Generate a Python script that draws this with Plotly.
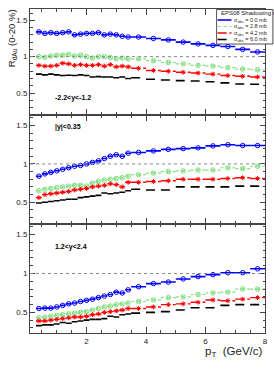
import plotly.graph_objects as go

# ---------------- data ----------------
pt = [0.4, 0.6, 0.8, 1.0, 1.2, 1.4, 1.6, 1.8, 2.0, 2.2, 2.4, 2.6, 2.8, 3.0, 3.2, 3.4,
      3.75, 4.25, 4.75, 5.25, 5.75, 6.25, 6.75, 7.25, 7.75]
pt_width = [0.2] * 16 + [0.5] * 9

sigma_labels = ["0.0", "2.8", "4.2", "6.0"]
rapidity_labels = ["-2.2<y<-1.2", "|y|<0.35", "1.2<y<2.4"]

# backward rapidity
bwd_0p0 = [1.34, 1.32, 1.33, 1.32, 1.33, 1.34, 1.30, 1.31, 1.32, 1.32, 1.33, 1.30, 1.31, 1.30, 1.28, 1.27,
           1.27, 1.25, 1.23, 1.20, 1.175, 1.155, 1.14, 1.10, 1.065]
bwd_2p8 = [1.00, 0.99, 1.01, 1.02, 1.02, 1.03, 1.01, 1.02, 1.00, 0.98, 1.00, 1.00, 0.99, 0.97, 0.98, 0.97,
           0.97, 0.945, 0.92, 0.90, 0.88, 0.87, 0.85, 0.83, 0.82]
bwd_4p2 = [0.88, 0.87, 0.87, 0.88, 0.91, 0.90, 0.88, 0.89, 0.88, 0.88, 0.89, 0.87, 0.89, 0.86, 0.87, 0.86,
           0.84, 0.81, 0.80, 0.785, 0.775, 0.76, 0.74, 0.73, 0.72]
bwd_6p0 = [0.76, 0.75, 0.76, 0.75, 0.74, 0.745, 0.74, 0.75, 0.74, 0.72, 0.725, 0.72, 0.72, 0.71, 0.72, 0.70,
           0.71, 0.69, 0.68, 0.67, 0.665, 0.655, 0.64, 0.625, 0.62]

# mid rapidity
mid_0p0 = [0.84, 0.87, 0.89, 0.91, 0.93, 0.95, 0.97, 0.98, 1.00, 1.02, 1.04, 1.07, 1.10, 1.12, 1.10, 1.14,
           1.15, 1.17, 1.19, 1.20, 1.21, 1.235, 1.25, 1.24, 1.24]
mid_2p8 = [0.65, 0.67, 0.68, 0.69, 0.70, 0.71, 0.72, 0.72, 0.71, 0.75, 0.77, 0.79, 0.80, 0.81, 0.82, 0.84,
           0.86, 0.88, 0.90, 0.91, 0.92, 0.92, 0.95, 0.94, 0.97]
mid_4p2 = [0.56, 0.60, 0.61, 0.62, 0.63, 0.64, 0.66, 0.67, 0.68, 0.70, 0.71, 0.72, 0.74, 0.73, 0.70, 0.76,
           0.76, 0.77, 0.78, 0.80, 0.80, 0.80, 0.81, 0.82, 0.81]
mid_6p0 = [0.49, 0.50, 0.51, 0.52, 0.53, 0.54, 0.54, 0.56, 0.57, 0.58, 0.59, 0.62, 0.61, 0.62, 0.63, 0.65,
           0.67, 0.66, 0.66, 0.70, 0.70, 0.70, 0.70, 0.71, 0.71]

# forward rapidity
fwd_0p0 = [0.55, 0.555, 0.555, 0.57, 0.59, 0.61, 0.62, 0.64, 0.655, 0.67, 0.69, 0.71, 0.73, 0.76, 0.75, 0.79,
           0.83, 0.87, 0.89, 0.93, 0.96, 0.985, 1.01, 1.01, 1.06]
fwd_2p8 = [0.43, 0.44, 0.45, 0.46, 0.47, 0.48, 0.49, 0.50, 0.51, 0.53, 0.55, 0.57, 0.58, 0.60, 0.61, 0.62,
           0.64, 0.66, 0.69, 0.70, 0.73, 0.75, 0.76, 0.80, 0.80]
fwd_4p2 = [0.39, 0.39, 0.40, 0.41, 0.42, 0.43, 0.44, 0.44, 0.45, 0.47, 0.48, 0.50, 0.51, 0.52, 0.53, 0.55,
           0.55, 0.57, 0.60, 0.61, 0.63, 0.66, 0.65, 0.67, 0.69]
fwd_6p0 = [0.33, 0.34, 0.34, 0.35, 0.37, 0.36, 0.38, 0.39, 0.40, 0.41, 0.41, 0.42, 0.45, 0.44, 0.47, 0.48,
           0.49, 0.50, 0.51, 0.53, 0.56, 0.56, 0.59, 0.60, 0.60]

panels = [
    [bwd_0p0, bwd_2p8, bwd_4p2, bwd_6p0],
    [mid_0p0, mid_2p8, mid_4p2, mid_6p0],
    [fwd_0p0, fwd_2p8, fwd_4p2, fwd_6p0],
]

# ---------------- styles ----------------
colors = ["#0000ff", "#7fe07f", "#ff0000", "#000000"]
dashes = ["solid", "dot", "dashdot", "dash"]
symbols = ["circle-open", "circle-x-open", "asterisk-open", None]
msizes = [4.5, 4.5, 4, None]
widths = [1.6, 1.2, 1.4, 1.6]

W, H = 274, 374
ML, MR, MT, MB = 30, 6, 9, 41
PW, PH = W - ML - MR, H - MT - MB

def px_x(px):
    return (px - ML) / PW

def px_y(py):
    return (H - MB - py) / PH

domains = [[px_y(114.5), 1.0], [px_y(223.7), px_y(114.5)], [0.0, px_y(223.7)]]
yranges = [[0.205, 1.655], [0.22, 1.645], [0.235, 1.64]]

fig = go.Figure()

for p, series in enumerate(panels):
    ax = "" if p == 0 else str(p + 1)
    for s, vals in enumerate(series):
        xs, ys = [], []
        for c, w, v in zip(pt, pt_width, vals):
            xs += [c - w / 2, c + w / 2, None]
            ys += [v, v, None]
        fig.add_trace(go.Scatter(
            x=xs, y=ys, mode="lines", xaxis="x" + ax, yaxis="y" + ax,
            line=dict(color=colors[s], dash=dashes[s], width=widths[s]),
            showlegend=False, hoverinfo="skip"))
        if symbols[s] is not None:
            fig.add_trace(go.Scatter(
                x=pt, y=vals, mode="markers", xaxis="x" + ax, yaxis="y" + ax,
                marker=dict(symbol=symbols[s], size=msizes[s], color=colors[s],
                            line=dict(color=colors[s], width=1)),
                showlegend=False))
    # unity line
    fig.add_shape(type="line", xref="x" + ax + " domain", yref="y" + ax,
                  x0=0, x1=1, y0=1, y1=1,
                  line=dict(color="#888888", width=1, dash="dot"))

axis_common = dict(showline=True, linecolor="#444444", linewidth=1, mirror="ticks",
                   ticks="inside", showgrid=False, zeroline=False,
                   tickfont=dict(family="Liberation Sans, Arial", size=8, color="#222222"))

layout = dict(
    width=W, height=H, margin=dict(l=ML, r=MR, t=MT, b=MB),
    plot_bgcolor="white", paper_bgcolor="white", showlegend=False,
    font=dict(family="Liberation Sans, Arial", color="#222222"),
)
for p in range(3):
    ax = "" if p == 0 else str(p + 1)
    layout["xaxis" + ax] = dict(
        axis_common, range=[0.1, 8], dtick=2, tick0=0, ticklen=6,
        showticklabels=(p == 2), anchor="y" + ax,
        minor=dict(dtick=0.5, ticklen=3, ticks="inside", tickcolor="#444444"),
        matches=None if p == 0 else "x")
    layout["yaxis" + ax] = dict(
        axis_common, range=yranges[p], domain=domains[p], dtick=0.5, tick0=0, ticklen=5,
        anchor="x" + ax,
        minor=dict(dtick=0.1, ticklen=2.5, ticks="inside", tickcolor="#444444"))
fig.update_layout(**layout)

ann = []
label_py = [97.7, 127.5, 246.7]
for p, lab in enumerate(rapidity_labels):
    ann.append(dict(text="<b>" + lab + "</b>", x=px_x(53), y=px_y(label_py[p]),
                    xref="paper", yref="paper", xanchor="left", yanchor="middle",
                    showarrow=False, font=dict(size=7, color="black")))

ann.append(dict(text="R<sub>dAu</sub> (0-20 %)", textangle=-90, x=px_x(12), y=px_y(38),
                xref="paper", yref="paper", xanchor="center", yanchor="middle",
                showarrow=False, font=dict(size=9.5, color="#222222")))
ann.append(dict(text="p<sub>T</sub>  (GeV/c)", x=px_x(268), y=px_y(352),
                xref="paper", yref="paper", xanchor="right", yanchor="middle",
                showarrow=False, font=dict(size=11.5, color="#222222")))

# legend box
fig.add_shape(type="rect", xref="paper", yref="paper",
              x0=px_x(219), x1=px_x(276), y0=px_y(44), y1=px_y(9.5),
              line=dict(color="#222222", width=0.8), fillcolor="white", layer="above")
ann.append(dict(text="EPS08 Shadowing r", x=px_x(221), y=px_y(13.5),
                xref="paper", yref="paper", xanchor="left", yanchor="middle",
                showarrow=False, font=dict(size=6, color="#222222")))
leg_py = [20, 26.5, 33, 39.5]
for s, lab in enumerate(sigma_labels):
    fig.add_shape(type="line", xref="paper", yref="paper",
                  x0=px_x(220), x1=px_x(234), y0=px_y(leg_py[s]), y1=px_y(leg_py[s]),
                  line=dict(color=colors[s], dash=dashes[s], width=widths[s]), layer="above")
    ann.append(dict(text="\u03c3<sub>abs</sub> = " + lab + " mb", x=px_x(235), y=px_y(leg_py[s]),
                    xref="paper", yref="paper", xanchor="left", yanchor="middle",
                    showarrow=False, font=dict(size=5.5, color="#222222")))

fig.update_layout(annotations=ann)
fig.write_html("out.html", config={"displayModeBar": False},
               post_script="document.body.style.margin='0';document.body.style.padding='0';")
